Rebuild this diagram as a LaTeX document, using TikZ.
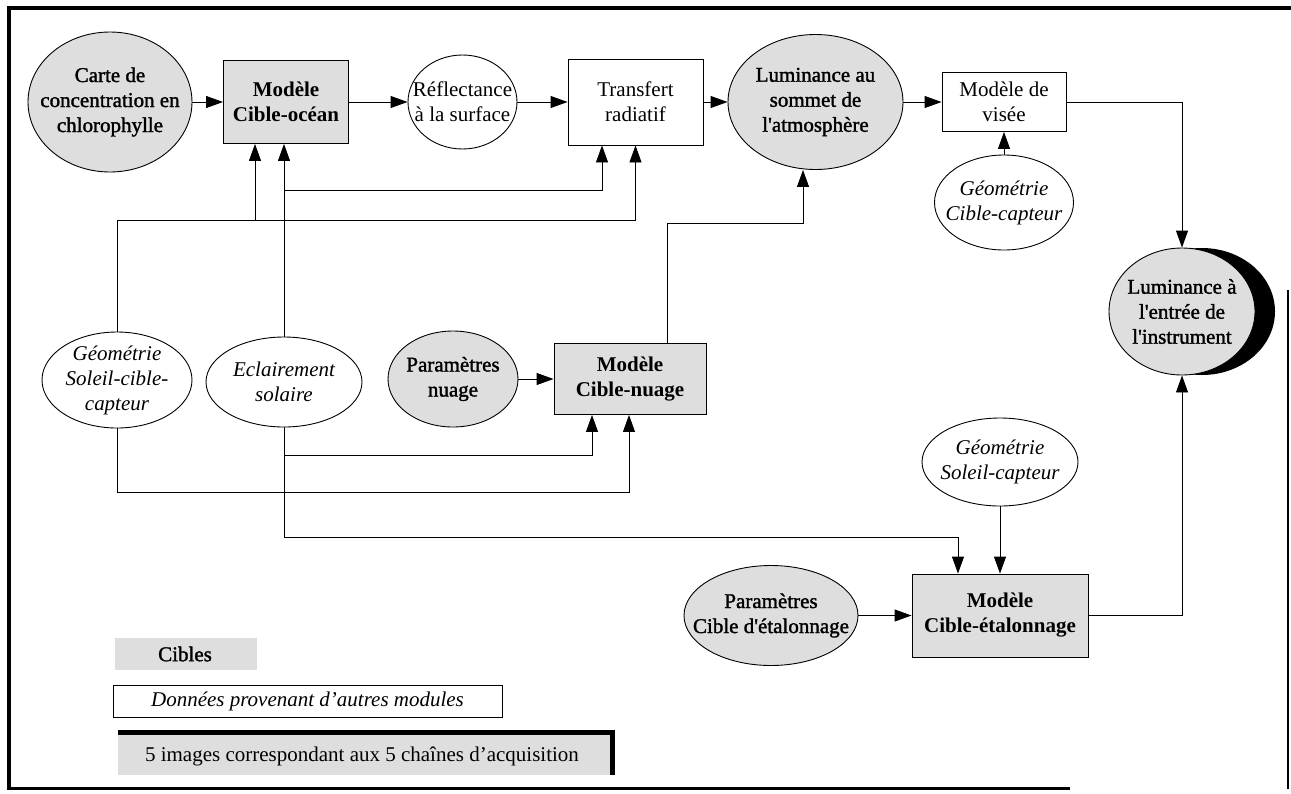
\documentclass[tikz,border=0pt]{standalone}
\usepackage{fontspec}
\setmainfont{Liberation Serif}
\newfontfamily\heavyfont[FakeBold=1.5]{Liberation Serif}
\usetikzlibrary{arrows.meta,shapes.geometric}
\begin{document}
\begin{tikzpicture}[x=1pt,y=-1pt,
  conn/.style={line width=0.9pt},
  arr/.style={conn,-{Triangle[length=17pt,width=12pt]}},
  oval/.style={ellipse, draw, line width=0.9pt, inner sep=0pt},
  box/.style={rectangle, draw, line width=0.9pt, inner sep=0pt},
  shaded/.style={fill=black!13},
  lbl/.style={align=center, inner sep=0pt, font=\fontsize{21}{25}\selectfont},
  lblh/.style={align=center, inner sep=0pt, font=\fontsize{21}{25}\selectfont\heavyfont},
  lblb/.style={align=center, inner sep=0pt, font=\fontsize{21}{25}\selectfont\bfseries},
  lbli/.style={align=center, inner sep=0pt, font=\fontsize{21}{25}\selectfont\itshape},
]
\useasboundingbox (0,0) rectangle (1291,793);

% frame
\draw[line width=3.5pt] (8,8) -- (1291,8);
\draw[line width=4pt] (9,6) -- (9,790);
\draw[line width=3pt] (7,788) -- (1070,788);
\draw[line width=2pt] (1288,290) -- (1288,789);

% top row
\node[oval, shaded, minimum width=164pt, minimum height=140pt] (carte) at (110,102) {};
\node[lblh] (carte-t) at (carte) {Carte de\\concentration en\\chlorophylle};
\node[box, shaded, minimum width=125pt, minimum height=83pt, lblb] (ocean) at (286,102) {Modèle\\Cible-océan};
\node[oval, minimum width=109pt, minimum height=94pt] (refl) at (462.5,102) {};
\node[lbl] (refl-t) at (refl) {Réflectance\\à la surface};
\node[box, minimum width=135pt, minimum height=86pt, lbl] (transfert) at (635.5,102) {Transfert\\radiatif};
\node[oval, shaded, minimum width=175pt, minimum height=135pt] (lumsom) at (815.5,102) {};
\node[lblh] (lumsom-t) at (lumsom) {Luminance au\\sommet de\\l'atmosphère};
\node[box, minimum width=124pt, minimum height=59pt, lbl] (visee) at (1004,102) {Modèle de\\visée};
\node[oval, minimum width=139pt, minimum height=95pt] (geocc) at (1004,202.5) {};
\node[lbli] (geocc-t) at (geocc) {Géométrie\\Cible-capteur};

% luminance entree with shadow
\node[ellipse, fill=black, inner sep=0pt, minimum width=146pt, minimum height=127pt] (lument-sh) at (1202,311.5) {};
\node[oval, fill=black!13, minimum width=146pt, minimum height=127pt] (lument) at (1182,311.5) {};
\node[lblh] (lument-t) at (lument) {Luminance à\\l'entrée de\\l'instrument};

% middle row
\node[oval, minimum width=150pt, minimum height=96pt] (gscc) at (117,380) {};
\node[lbli] (gscc-t) at (gscc) {Géométrie\\Soleil-cible-\\capteur};
\node[oval, minimum width=156pt, minimum height=90pt] (eclair) at (284,382) {};
\node[lbli] (eclair-t) at (eclair) {Eclairement\\solaire};
\node[oval, shaded, minimum width=130pt, minimum height=96pt] (pnuage) at (453,379) {};
\node[lblh] (pnuage-t) at (pnuage) {Paramètres\\nuage};
\node[box, shaded, minimum width=152pt, minimum height=71pt, lblb] (nuage) at (630,379) {Modèle\\Cible-nuage};

% bottom
\node[oval, minimum width=156pt, minimum height=88pt] (gsc) at (1000,462) {};
\node[lbli] (gsc-t) at (gsc) {Géométrie\\Soleil-capteur};
\node[oval, shaded, minimum width=174pt, minimum height=100pt] (pcet) at (771,615.5) {};
\node[lblh] (pcet-t) at (pcet) {Paramètres\\Cible d'étalonnage};
\node[box, shaded, minimum width=176pt, minimum height=83pt, lblb] (etal) at (1000,615.5) {Modèle\\Cible-étalonnage};

% top-row connectors
\draw[arr] (carte) -- (ocean);
\draw[arr] (ocean) -- (refl);
\draw[arr] (refl) -- (transfert);
\draw[arr] (transfert) -- (lumsom);
\draw[arr] (lumsom) -- (visee);
\draw[arr] (geocc) -- (visee);
\draw[arr] (visee.east) -| (lument.north);
\draw[arr] (etal.east) -| (lument.south);

% geometrie soleil-cible-capteur (up)
\coordinate (g1) at (117,220);
\coordinate (g2) at (255,220);
\coordinate (g3) at (635.5,220);
\draw[conn] (gscc.north) -- (g1) -- (g3);
\draw[arr] (g3) -- (transfert.south);
\draw[arr] (g2) -- (g2 |- ocean.south);

% eclairement (up)
\coordinate (e1) at (284,190);
\coordinate (e2) at (602,190);
\draw[arr] (eclair.north) -- (eclair.north |- ocean.south);
\draw[arr] (e1) -- (e2) -- (e2 |- transfert.south);

% nuage -> luminance sommet
\coordinate (n1) at (667,223);
\coordinate (n2) at (803,223);
\draw[arr] (n1 |- nuage.north) -- (n1) -- (n2) -- (n2 |- lumsom.south);
\draw[arr] (pnuage) -- (nuage);

% eclairement (down)
\coordinate (e3) at (284,455);
\coordinate (e4) at (592,455);
\coordinate (e5) at (284,537);
\coordinate (e6) at (958,537);
\draw[arr] (eclair.south) -- (e5) -- (e6) -- (e6 |- etal.north);
\draw[arr] (e3) -- (e4) -- (e4 |- nuage.south);

% geometrie soleil-cible-capteur (down)
\coordinate (g4) at (117,492);
\coordinate (g5) at (629,492);
\draw[arr] (gscc.south) -- (g4) -- (g5) -- (g5 |- nuage.south);

% bottom connectors
\draw[arr] (gsc) -- (etal);
\draw[arr] (pcet) -- (etal);

% legend
\node[rectangle, fill=black!13, minimum width=142pt, minimum height=32pt, inner sep=0pt] (leg1) at (186,654) {};
\node[lblh, anchor=west] (leg1-t) at (158,654) {Cibles};
\node[box, minimum width=389pt, minimum height=32pt, lbli] (leg2) at (307.5,701) {Données provenant d'autres modules};
\node[rectangle, fill=black!13, minimum width=497pt, minimum height=42pt, inner sep=0pt] (leg3) at (366.5,754) {};
\node[lbl] (leg3-t) at (362,756) {5 images correspondant aux 5 chaînes d'acquisition};
\draw[line width=5pt] (leg3.north west) -- (leg3.north east);
\draw[line width=5pt] ([xshift=-2.5pt]leg3.north east) -- ([xshift=-2.5pt]leg3.south east);
\end{tikzpicture}
\end{document}
